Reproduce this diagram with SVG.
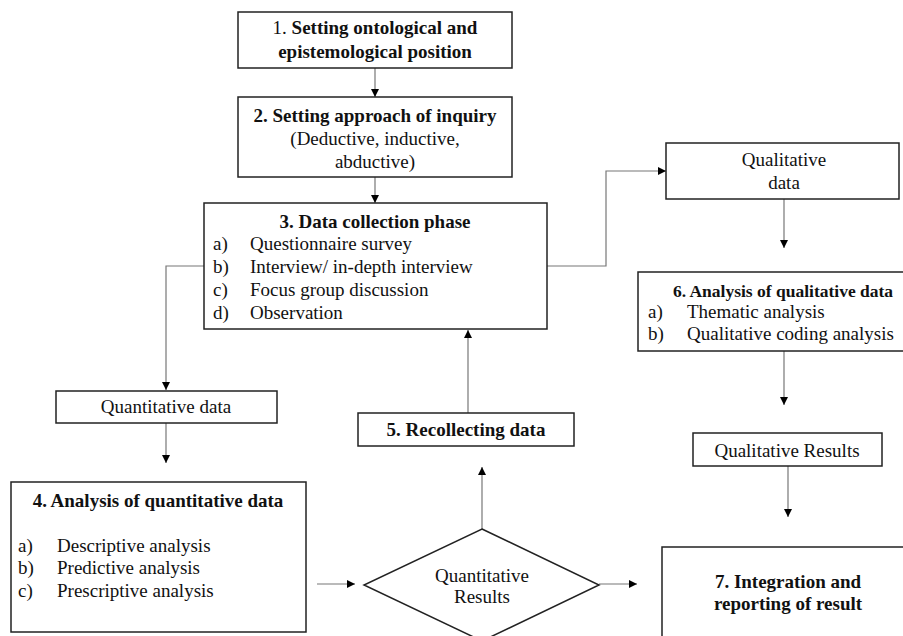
<svg xmlns="http://www.w3.org/2000/svg" width="903" height="636" viewBox="0 0 903 636">
<style>
.box{fill:#fff;stroke:#222;stroke-width:1.5}
.t{font-family:"Liberation Serif","Times New Roman",serif;font-size:19px;fill:#111}
.b{font-weight:bold}
.m{text-anchor:middle}
.c{fill:none;stroke:#777;stroke-width:1.2}
</style>
<defs>
<marker id="ah" markerUnits="userSpaceOnUse" markerWidth="9" markerHeight="9" refX="8" refY="4" orient="auto">
<path d="M0,0 L8,4 L0,8 z" fill="#000"/>
</marker>
</defs>
<rect width="903" height="636" fill="#fff"/>
<g id="connectors">
<line class="c" x1="375" y1="68" x2="375" y2="97" marker-end="url(#ah)"/>
<line class="c" x1="375" y1="177" x2="375" y2="203" marker-end="url(#ah)"/>
<path class="c" d="M204,266 H166 V390" marker-end="url(#ah)"/>
<line class="c" x1="166" y1="423" x2="166" y2="463" marker-end="url(#ah)"/>
<path class="c" d="M547,266 H606 V171 H666" marker-end="url(#ah)"/>
<line class="c" x1="784" y1="199" x2="784" y2="248" marker-end="url(#ah)"/>
<line class="c" x1="784" y1="351" x2="784" y2="405" marker-end="url(#ah)"/>
<line class="c" x1="788" y1="466" x2="788" y2="517" marker-end="url(#ah)"/>
<line class="c" x1="468" y1="413" x2="468" y2="330" marker-end="url(#ah)"/>
<line class="c" x1="482" y1="529" x2="482" y2="467" marker-end="url(#ah)"/>
<line class="c" x1="317" y1="584" x2="355" y2="584" marker-end="url(#ah)"/>
<line class="c" x1="599" y1="584" x2="637" y2="584" marker-end="url(#ah)"/>
</g>
<g id="n1">
<rect class="box" x="238" y="12" width="274" height="56"/>
<text class="t m" x="375" y="34">1.<tspan class="b"> Setting ontological and</tspan></text>
<text class="t b m" x="375" y="58">epistemological position</text>
</g>
<g id="n2">
<rect class="box" x="238" y="97" width="274" height="80"/>
<text class="t b m" x="375" y="122">2. Setting approach of inquiry</text>
<text class="t m" x="375" y="145">(Deductive, inductive,</text>
<text class="t m" x="375" y="168">abductive)</text>
</g>
<g id="n3">
<rect class="box" x="204" y="203" width="343" height="126"/>
<text class="t b m" x="375" y="228">3. Data collection phase</text>
<text class="t" x="213" y="250">a)</text><text class="t" x="250" y="250">Questionnaire survey</text>
<text class="t" x="213" y="273">b)</text><text class="t" x="250" y="273">Interview/ in-depth interview</text>
<text class="t" x="213" y="296">c)</text><text class="t" x="250" y="296">Focus group discussion</text>
<text class="t" x="213" y="319">d)</text><text class="t" x="250" y="319">Observation</text>
</g>
<g id="qualdata">
<rect class="box" x="666" y="143" width="233" height="56"/>
<text class="t m" x="784" y="166">Qualitative</text>
<text class="t m" x="784" y="189">data</text>
</g>
<g id="n6">
<rect class="box" x="638" y="272" width="268" height="79"/>
<text class="t b m" x="783" y="297" style="font-size:17.5px">6. Analysis of qualitative data</text>
<text class="t" x="648" y="318">a)</text><text class="t" x="687" y="318">Thematic analysis</text>
<text class="t" x="648" y="340">b)</text><text class="t" x="687" y="340">Qualitative coding analysis</text>
</g>
<g id="quantdata">
<rect class="box" x="56" y="391" width="221" height="32"/>
<text class="t m" x="166" y="413">Quantitative data</text>
</g>
<g id="n4">
<rect class="box" x="11" y="482" width="295" height="150"/>
<text class="t b m" x="158" y="507">4. Analysis of quantitative data</text>
<text class="t" x="18" y="552">a)</text><text class="t" x="57" y="552">Descriptive analysis</text>
<text class="t" x="18" y="574">b)</text><text class="t" x="57" y="574">Predictive analysis</text>
<text class="t" x="18" y="597">c)</text><text class="t" x="57" y="597">Prescriptive analysis</text>
</g>
<g id="n5">
<rect class="box" x="358" y="413" width="216" height="33"/>
<text class="t b m" x="466" y="436">5. Recollecting data</text>
</g>
<g id="quantresults">
<polygon class="box" points="482,529 599,585 482,641 364,585"/>
<text class="t m" x="482" y="582">Quantitative</text>
<text class="t m" x="482" y="603">Results</text>
</g>
<g id="qualresults">
<rect class="box" x="693" y="433" width="189" height="33"/>
<text class="t m" x="787" y="457">Qualitative Results</text>
</g>
<g id="n7">
<rect class="box" x="662" y="547" width="245" height="95"/>
<text class="t b m" x="788" y="588">7. Integration and</text>
<text class="t b m" x="788" y="610">reporting of result</text>
</g>
</svg>
